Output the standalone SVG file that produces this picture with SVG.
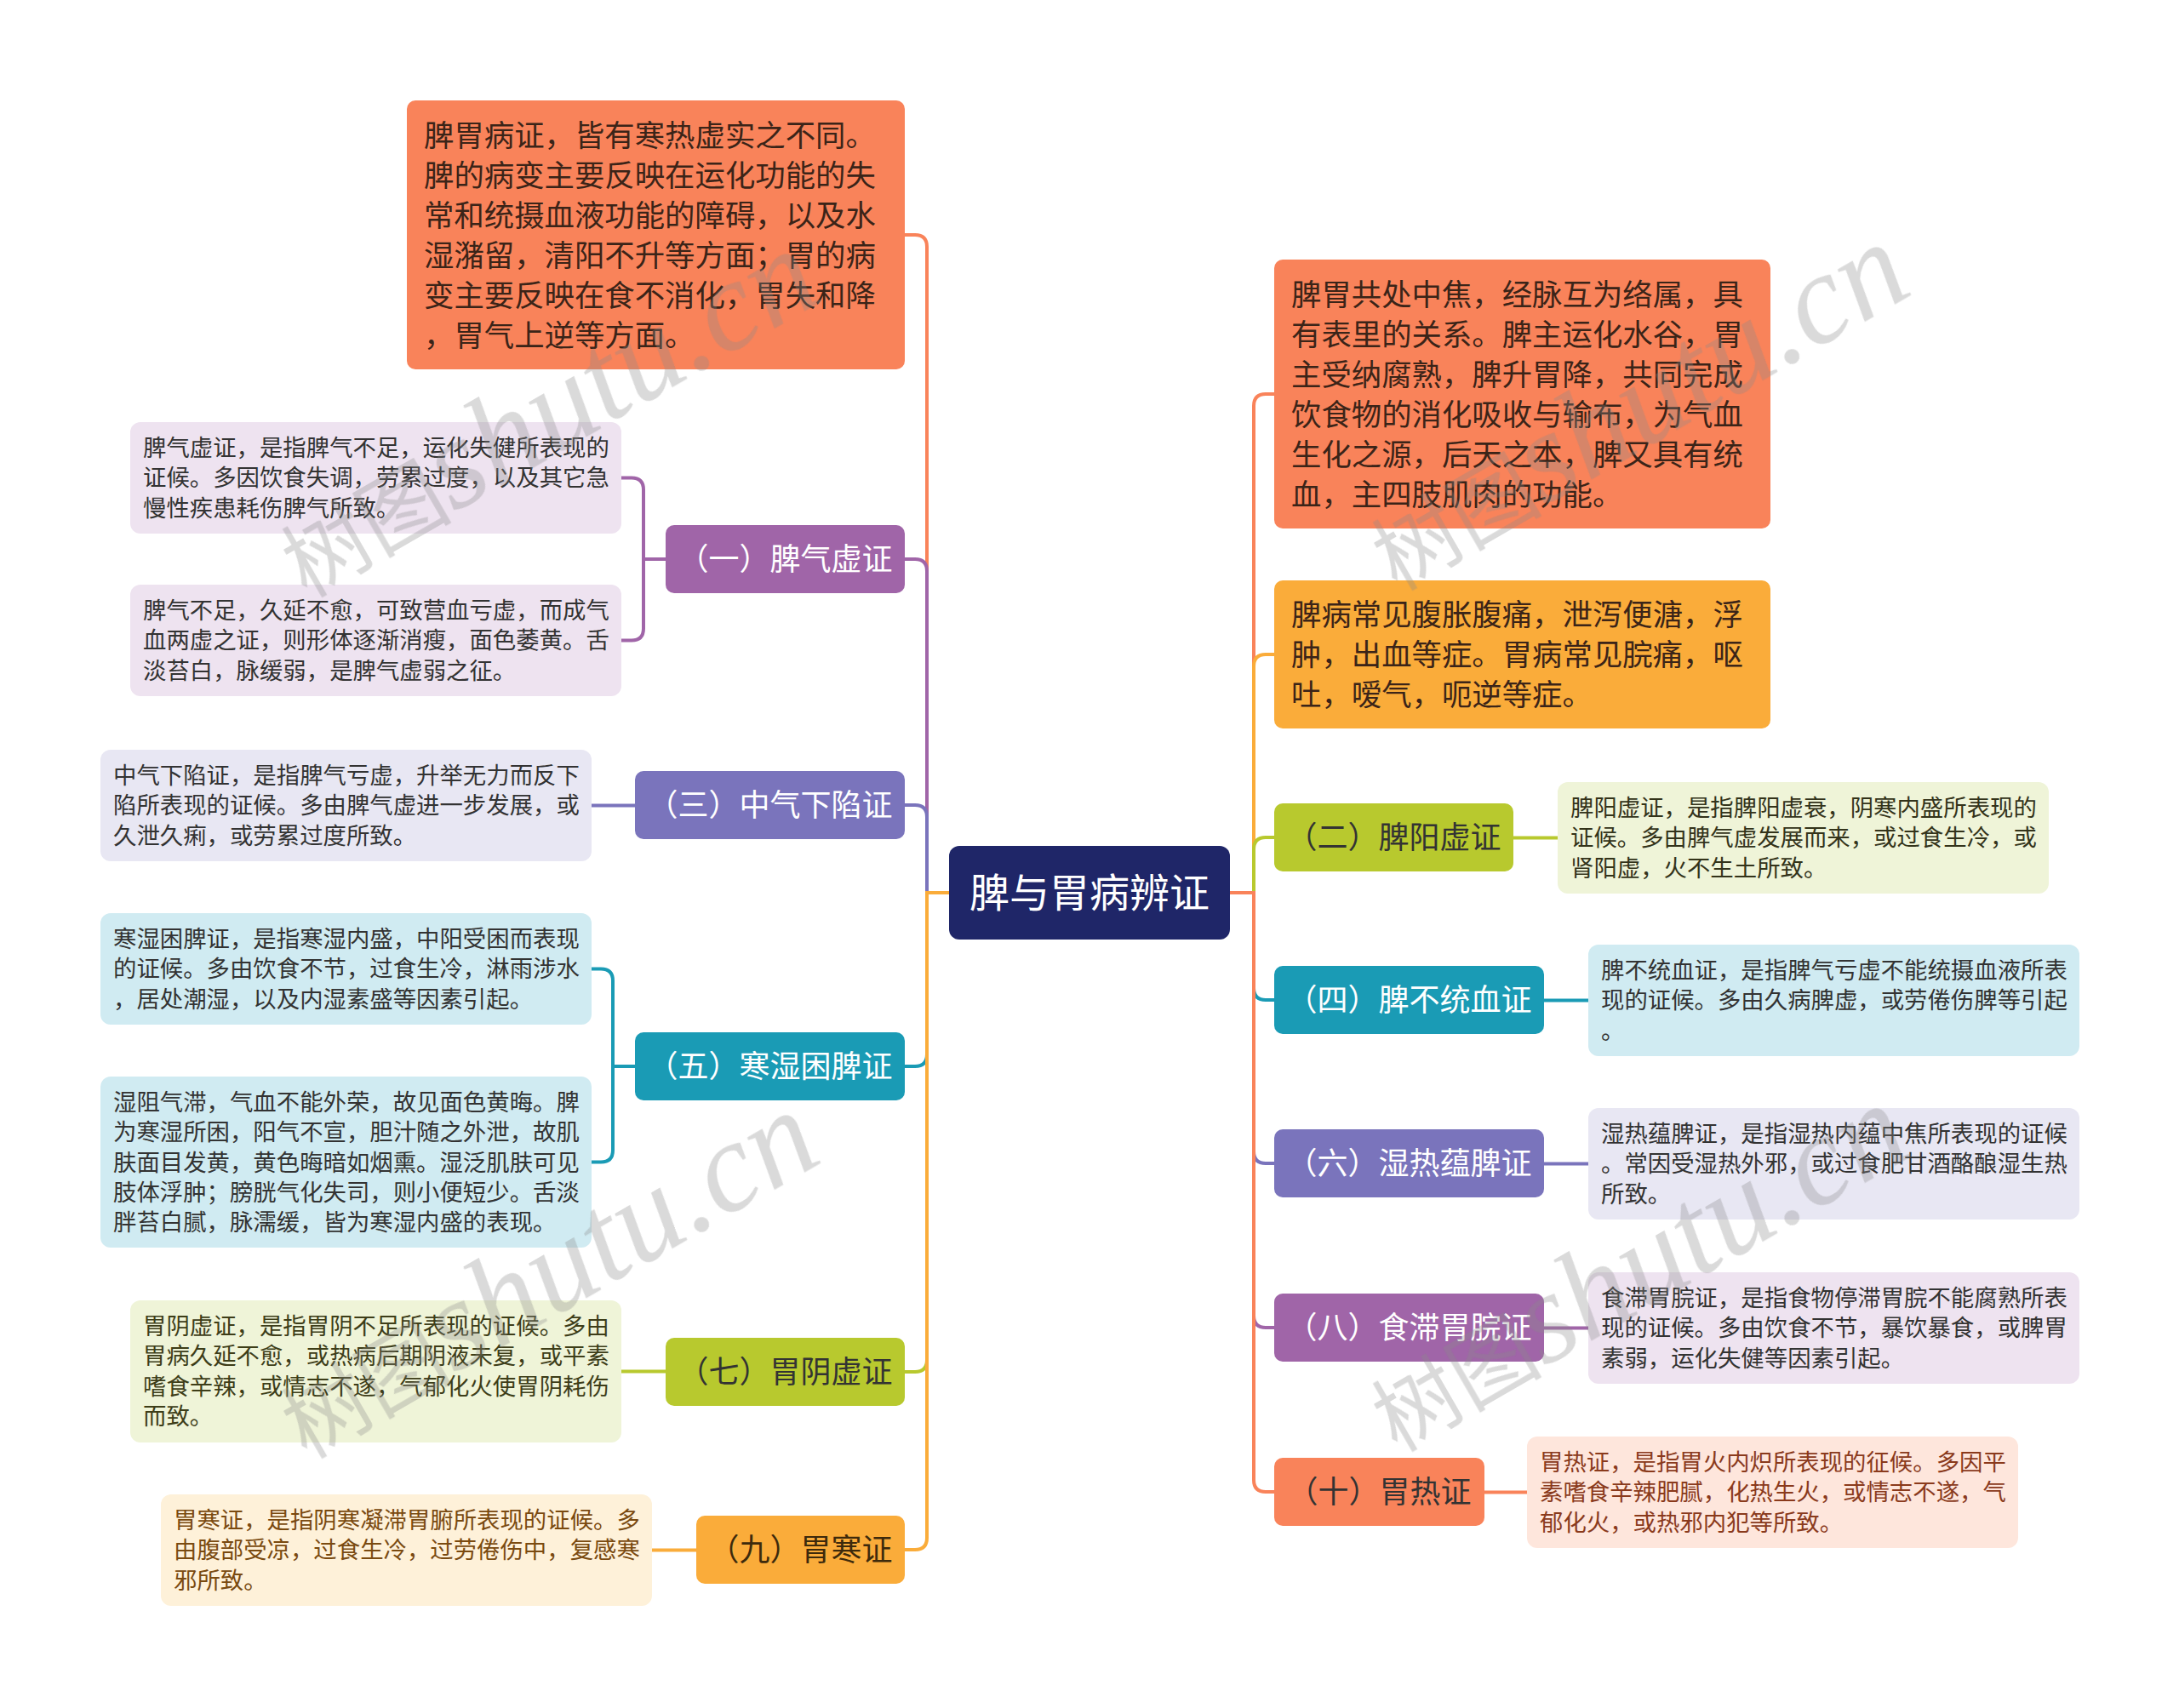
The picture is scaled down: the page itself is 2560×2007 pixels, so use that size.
<svg xmlns="http://www.w3.org/2000/svg" width="2560" height="2007" viewBox="0 0 2560 2007">
<style>
text{font-family:"Noto Sans CJK SC","Noto Sans",sans-serif;}
.big{font-size:35.4px;fill:#3b2418;}
.lf{font-size:27.4px;fill:#333;}
.nt{font-size:36px;text-anchor:middle;fill:#fff;}
.dk{fill:#333;}
.ct{font-size:47px;text-anchor:middle;fill:#fff;}
.c path,.c line{fill:none;stroke-width:4;stroke-linecap:round;}
.wm{opacity:0.32;fill:#8a8a8a;}
.wm .a{font-size:100px;}
.wm .b{font-size:150px;font-family:"Liberation Serif",serif;font-style:italic;}
</style>
<rect width="2560" height="2007" fill="#fff"/>
<g class="c" id="connectors">
<path d="M1115 1049H1089V290Q1089 276 1075 276H1063" stroke="#F9835A"/>
<path d="M1115 1049H1089V671Q1089 657 1075 657H1063" stroke="#A065A8"/>
<path d="M1115 1049H1089V960Q1089 946 1075 946H1063" stroke="#7A74BC"/>
<path d="M1115 1049H1089V1239Q1089 1253 1075 1253H1063" stroke="#1A9BB5"/>
<path d="M1115 1049H1089V1598Q1089 1612 1075 1612H1063" stroke="#B8C92E"/>
<path d="M1115 1049H1089V1807Q1089 1821 1075 1821H1063" stroke="#FAAC3A"/>
<path d="M1445 1049H1473V477Q1473 463 1487 463H1497" stroke="#F9835A"/>
<path d="M1445 1049H1473V783Q1473 769 1487 769H1497" stroke="#FAAC3A"/>
<path d="M1445 1049H1473V998Q1473 984 1487 984H1497" stroke="#B8C92E"/>
<path d="M1445 1049H1473V1161Q1473 1175 1487 1175H1497" stroke="#1A9BB5"/>
<path d="M1445 1049H1473V1353Q1473 1367 1487 1367H1497" stroke="#7A74BC"/>
<path d="M1445 1049H1473V1546Q1473 1560 1487 1560H1497" stroke="#A065A8"/>
<path d="M1445 1049H1473V1739Q1473 1753 1487 1753H1497" stroke="#F9835A"/>
<path d="M730 561.5H742Q756 561.5 756 575.5V738.5Q756 752.5 742 752.5H730M756 657H782" stroke="#A065A8"/>
<path d="M694 946.5H746" stroke="#7A74BC"/>
<path d="M694 1138.5H706Q720 1138.5 720 1152.5V1351.5Q720 1365.5 706 1365.5H694M720 1253H746" stroke="#1A9BB5"/>
<path d="M730 1611.5H782" stroke="#B8C92E"/>
<path d="M766 1821.5H818" stroke="#FAAC3A"/>
<path d="M1778 984.5H1830" stroke="#B8C92E"/>
<path d="M1814 1175.5H1866" stroke="#1A9BB5"/>
<path d="M1814 1367.5H1866" stroke="#7A74BC"/>
<path d="M1814 1560.5H1866" stroke="#A065A8"/>
<path d="M1744 1753.5H1794" stroke="#F9835A"/>
</g>
<g id="center">
<rect x="1115" y="994" width="330" height="110" rx="12" fill="#1F2668"/>
<text class="ct" x="1280" y="1066">脾与胃病辨证</text>
</g>
<g id="intro-left">
<rect x="478" y="118" width="585" height="316" rx="10" fill="#F9835A"/>
<text class="big"><tspan x="498" y="172">脾胃病证，皆有寒热虚实之不同。</tspan><tspan x="498" y="219">脾的病变主要反映在运化功能的失</tspan><tspan x="498" y="266">常和统摄血液功能的障碍，以及水</tspan><tspan x="498" y="313">湿潴留，清阳不升等方面；胃的病</tspan><tspan x="498" y="360">变主要反映在食不消化，胃失和降</tspan><tspan x="498" y="407">，胃气上逆等方面。</tspan></text>
</g>
<g id="n1">
<rect x="782" y="617" width="281" height="80" rx="10" fill="#A065A8"/>
<text class="nt" x="922.5" y="670">（一）脾气虚证</text>
</g>
<g id="n1-leaf1">
<rect x="153" y="496" width="577" height="131" rx="12" fill="#EEE3F0"/>
<text class="lf"><tspan x="168" y="536">脾气虚证，是指脾气不足，运化失健所表现的</tspan><tspan x="168" y="571">证候。多因饮食失调，劳累过度，以及其它急</tspan><tspan x="168" y="607">慢性疾患耗伤脾气所致。</tspan></text>
</g>
<g id="n1-leaf2">
<rect x="153" y="687" width="577" height="131" rx="12" fill="#EEE3F0"/>
<text class="lf"><tspan x="168" y="727">脾气不足，久延不愈，可致营血亏虚，而成气</tspan><tspan x="168" y="762">血两虚之证，则形体逐渐消瘦，面色萎黄。舌</tspan><tspan x="168" y="798">淡苔白，脉缓弱，是脾气虚弱之征。</tspan></text>
</g>
<g id="n3">
<rect x="746" y="906" width="317" height="80" rx="10" fill="#7A74BC"/>
<text class="nt" x="904.5" y="959">（三）中气下陷证</text>
</g>
<g id="n3-leaf">
<rect x="118" y="881" width="577" height="131" rx="12" fill="#E8E7F3"/>
<text class="lf"><tspan x="133" y="921">中气下陷证，是指脾气亏虚，升举无力而反下</tspan><tspan x="133" y="956">陷所表现的证候。多由脾气虚进一步发展，或</tspan><tspan x="133" y="992">久泄久痢，或劳累过度所致。</tspan></text>
</g>
<g id="n5">
<rect x="746" y="1213" width="317" height="80" rx="10" fill="#1A9BB5"/>
<text class="nt" x="904.5" y="1266">（五）寒湿困脾证</text>
</g>
<g id="n5-leaf1">
<rect x="118" y="1073" width="577" height="131" rx="12" fill="#D0EBF2"/>
<text class="lf"><tspan x="133" y="1113">寒湿困脾证，是指寒湿内盛，中阳受困而表现</tspan><tspan x="133" y="1148">的证候。多由饮食不节，过食生冷，淋雨涉水</tspan><tspan x="133" y="1184">，居处潮湿，以及内湿素盛等因素引起。</tspan></text>
</g>
<g id="n5-leaf2">
<rect x="118" y="1265" width="577" height="201" rx="12" fill="#D0EBF2"/>
<text class="lf"><tspan x="133" y="1305">湿阻气滞，气血不能外荣，故见面色黄晦。脾</tspan><tspan x="133" y="1340">为寒湿所困，阳气不宣，胆汁随之外泄，故肌</tspan><tspan x="133" y="1376">肤面目发黄，黄色晦暗如烟熏。湿泛肌肤可见</tspan><tspan x="133" y="1411">肢体浮肿；膀胱气化失司，则小便短少。舌淡</tspan><tspan x="133" y="1446">胖苔白腻，脉濡缓，皆为寒湿内盛的表现。</tspan></text>
</g>
<g id="n7">
<rect x="782" y="1572" width="281" height="80" rx="10" fill="#B8C92E"/>
<text class="nt dk" x="922.5" y="1625">（七）胃阴虚证</text>
</g>
<g id="n7-leaf">
<rect x="153" y="1528" width="577" height="167" rx="12" fill="#EFF4D8"/>
<text class="lf" style="fill:#3d3d18"><tspan x="168" y="1568">胃阴虚证，是指胃阴不足所表现的证候。多由</tspan><tspan x="168" y="1603">胃病久延不愈，或热病后期阴液未复，或平素</tspan><tspan x="168" y="1639">嗜食辛辣，或情志不遂，气郁化火使胃阴耗伤</tspan><tspan x="168" y="1674">而致。</tspan></text>
</g>
<g id="n9">
<rect x="818" y="1781" width="245" height="80" rx="10" fill="#FAAC3A"/>
<text class="nt" x="940.5" y="1834" style="fill:#3d2a0c">（九）胃寒证</text>
</g>
<g id="n9-leaf">
<rect x="189" y="1756" width="577" height="131" rx="12" fill="#FEF1D9"/>
<text class="lf" style="fill:#7a4a10"><tspan x="204" y="1796">胃寒证，是指阴寒凝滞胃腑所表现的证候。多</tspan><tspan x="204" y="1831">由腹部受凉，过食生冷，过劳倦伤中，复感寒</tspan><tspan x="204" y="1867">邪所致。</tspan></text>
</g>
<g id="intro-right">
<rect x="1497" y="305" width="583" height="316" rx="10" fill="#F9835A"/>
<text class="big"><tspan x="1517" y="359">脾胃共处中焦，经脉互为络属，具</tspan><tspan x="1517" y="406">有表里的关系。脾主运化水谷，胃</tspan><tspan x="1517" y="453">主受纳腐熟，脾升胃降，共同完成</tspan><tspan x="1517" y="500">饮食物的消化吸收与输布，为气血</tspan><tspan x="1517" y="547">生化之源，后天之本，脾又具有统</tspan><tspan x="1517" y="594">血，主四肢肌肉的功能。</tspan></text>
</g>
<g id="symptoms">
<rect x="1497" y="682" width="583" height="174" rx="10" fill="#FAAC3A"/>
<text class="big"><tspan x="1517" y="735">脾病常见腹胀腹痛，泄泻便溏，浮</tspan><tspan x="1517" y="782">肿，出血等症。胃病常见脘痛，呕</tspan><tspan x="1517" y="829">吐，嗳气，呃逆等症。</tspan></text>
</g>
<g id="n2">
<rect x="1497" y="944" width="281" height="80" rx="10" fill="#B8C92E"/>
<text class="nt dk" x="1637.5" y="997">（二）脾阳虚证</text>
</g>
<g id="n2-leaf">
<rect x="1830" y="919" width="577" height="131" rx="12" fill="#EFF4D8"/>
<text class="lf" style="fill:#33331a"><tspan x="1845" y="959">脾阳虚证，是指脾阳虚衰，阴寒内盛所表现的</tspan><tspan x="1845" y="994">证候。多由脾气虚发展而来，或过食生冷，或</tspan><tspan x="1845" y="1030">肾阳虚，火不生土所致。</tspan></text>
</g>
<g id="n4">
<rect x="1497" y="1135" width="317" height="80" rx="10" fill="#1A9BB5"/>
<text class="nt" x="1655.5" y="1188">（四）脾不统血证</text>
</g>
<g id="n4-leaf">
<rect x="1866" y="1110" width="577" height="131" rx="12" fill="#D0EBF2"/>
<text class="lf"><tspan x="1881" y="1150">脾不统血证，是指脾气亏虚不能统摄血液所表</tspan><tspan x="1881" y="1185">现的证候。多由久病脾虚，或劳倦伤脾等引起</tspan><tspan x="1881" y="1221">。</tspan></text>
</g>
<g id="n6">
<rect x="1497" y="1327" width="317" height="80" rx="10" fill="#7A74BC"/>
<text class="nt" x="1655.5" y="1380">（六）湿热蕴脾证</text>
</g>
<g id="n6-leaf">
<rect x="1866" y="1302" width="577" height="131" rx="12" fill="#E8E7F3"/>
<text class="lf"><tspan x="1881" y="1342">湿热蕴脾证，是指湿热内蕴中焦所表现的证候</tspan><tspan x="1881" y="1377">。常因受湿热外邪，或过食肥甘酒酪酿湿生热</tspan><tspan x="1881" y="1413">所致。</tspan></text>
</g>
<g id="n8">
<rect x="1497" y="1520" width="317" height="80" rx="10" fill="#A065A8"/>
<text class="nt" x="1655.5" y="1573">（八）食滞胃脘证</text>
</g>
<g id="n8-leaf">
<rect x="1866" y="1495" width="577" height="131" rx="12" fill="#EEE3F0"/>
<text class="lf"><tspan x="1881" y="1535">食滞胃脘证，是指食物停滞胃脘不能腐熟所表</tspan><tspan x="1881" y="1570">现的证候。多由饮食不节，暴饮暴食，或脾胃</tspan><tspan x="1881" y="1606">素弱，运化失健等因素引起。</tspan></text>
</g>
<g id="n10">
<rect x="1497" y="1713" width="247" height="80" rx="10" fill="#F9835A"/>
<text class="nt dk" x="1620.5" y="1766">（十）胃热证</text>
</g>
<g id="n10-leaf">
<rect x="1794" y="1688" width="577" height="131" rx="12" fill="#FEE6DC"/>
<text class="lf" style="fill:#8a3a1c"><tspan x="1809" y="1728">胃热证，是指胃火内炽所表现的征候。多因平</tspan><tspan x="1809" y="1763">素嗜食辛辣肥腻，化热生火，或情志不遂，气</tspan><tspan x="1809" y="1799">郁化火，或热邪内犯等所致。</tspan></text>
</g>
<g id="watermarks" class="wm">
<text transform="translate(360 703) rotate(-30)"><tspan class="a">树图</tspan><tspan class="b">shutu.cn</tspan></text>
<text transform="translate(1641 695) rotate(-30)"><tspan class="a">树图</tspan><tspan class="b">shutu.cn</tspan></text>
<text transform="translate(360 1715) rotate(-30)"><tspan class="a">树图</tspan><tspan class="b">shutu.cn</tspan></text>
<text transform="translate(1641 1707) rotate(-30)"><tspan class="a">树图</tspan><tspan class="b">shutu.cn</tspan></text>
</g>
</svg>
